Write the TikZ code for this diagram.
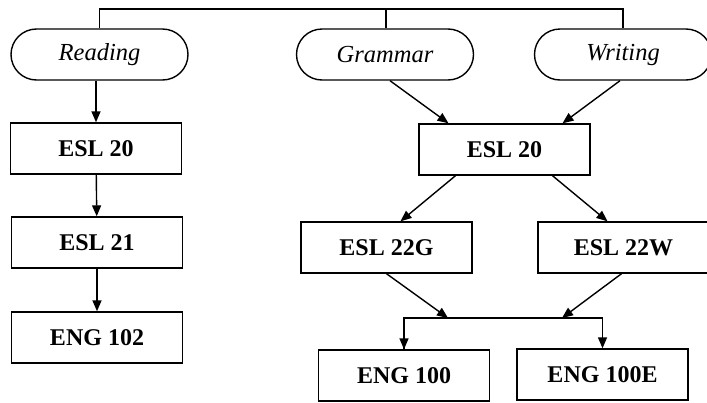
\documentclass[tikz,border=0pt]{standalone}
\usepackage{fontspec}
\setmainfont{Liberation Serif}
\usetikzlibrary{arrows.meta,calc}

\tikzset{
  skill/.style={draw, rounded corners=25.5pt, minimum width=177pt, minimum height=51pt,
    inner sep=0pt, font=\fontsize{24.5}{27}\selectfont\itshape},
  course/.style={draw, minimum width=171pt, minimum height=51pt,
    inner sep=0pt, font=\fontsize{24}{27}\selectfont\bfseries},
  flow/.style={->, >={Triangle[length=11pt,width=9pt]}}
}

\begin{document}
\begin{tikzpicture}[x=1pt, y=-1pt, line width=1.4pt]
			\useasboundingbox (0,0) rectangle (707,402);
			% skills
			\node[skill] (read) at (99.5,54.5) {Reading};
			\node[skill] (gram) at (385,54.5) {Grammar};
			\node[skill] (writ) at (623,54.5) {Writing};
			\coordinate (topline) at (386,9);
			\draw (read.north) |- (topline) -| (writ.north);
			\draw (gram.north -| topline) -- (topline);
			% reading track
			\node[course] (esl20a) at (96,148.5) {ESL 20};
			\node[course] (esl21) at (97,242.5) {ESL 21};
			\node[course] (eng102) at (97,337.5) {ENG 102};
			\draw[flow] (read.south -| esl20a) -- (esl20a.north);
			\draw[flow] (esl20a) -- (esl21);
			\draw[flow] (esl21) -- (eng102);
			% grammar and writing track
			\node[course] (esl20b) at (504.5,149.5) {ESL 20};
			\node[course] (esl22g) at (386.5,247.5) {ESL 22G};
			\node[course] (esl22w) at (623.5,247.5) {ESL 22W};
			\node[course] (eng100) at (404,375.5) {ENG 100};
			\node[course] (eng100e) at (602.5,374.5) {ENG 100E};
			\draw[flow] ($(gram.south)+(5,0)$) -- ($(esl20b.north)+(-56,0)$);
			\draw[flow] ($(writ.south)+(-3,0)$) -- ($(esl20b.north)+(58,0)$);
			\draw[flow] ($(esl20b.south)+(-49,0)$) -- ($(esl22g.north)+(14,0)$);
			\draw[flow] ($(esl20b.south)+(48,0)$) -- ($(esl22w.north)+(-16,0)$);
			\coordinate (merge) at (502,318);
			\draw[flow] (esl22g.south) -- (448,318);
			\draw[flow] ($(esl22w.south)+(-2,0)$) -- (562,318);
			\draw[flow] (eng100.north) |- (merge) -| (eng100e.north);
			\draw[flow] (merge -| eng100.north) -- (eng100.north);
\end{tikzpicture}
\end{document}
